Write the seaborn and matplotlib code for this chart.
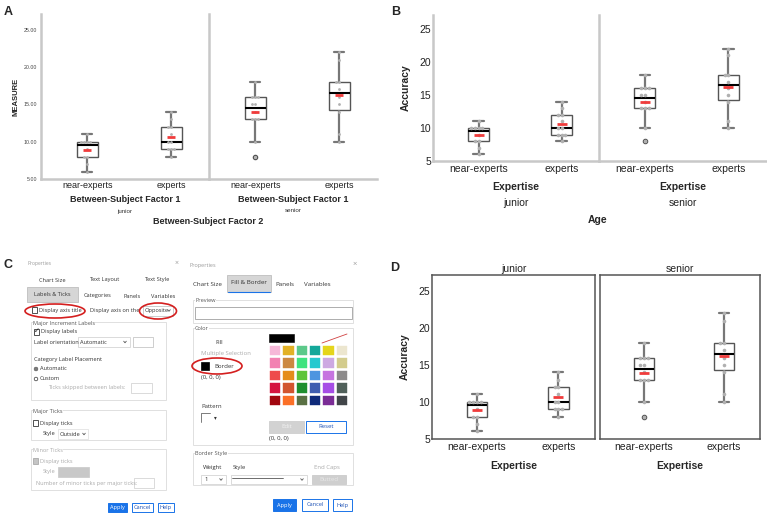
import numpy as np
import pandas as pd
import seaborn as sns
import matplotlib
matplotlib.use("Agg")
import matplotlib.pyplot as plt
from matplotlib.patches import Rectangle, Ellipse, Circle

# ---------------- data ----------------
categories = ["near-experts", "experts"]
ages = ["junior", "senior"]
junior_near = [6, 7, 8, 8, 9, 10, 10, 10, 10, 11]
junior_exp = [8, 9, 9, 9, 10, 10, 11, 12, 12, 13, 14]
senior_near = [8, 10, 13, 13, 13, 14, 15, 15, 16, 16, 16, 18]
senior_exp = [10, 11, 14, 15, 16, 17, 18, 18, 21, 22]
y_ticks = [5, 10, 15, 20, 25]

groups = {("junior", "near-experts"): junior_near,
          ("junior", "experts"): junior_exp,
          ("senior", "near-experts"): senior_near,
          ("senior", "experts"): senior_exp}
rows = []
for (age, exp), vals in groups.items():
    for v in vals:
        rows.append({"Age": age, "Expertise": exp, "Accuracy": v})
df = pd.DataFrame(rows)

# palette for the dialog colour grid
swatches = [
    ["#f6b8d8", "#e2b126", "#5cc98a", "#14a89a", "#e5d51c", "#ece6cf"],
    ["#f282b2", "#cc8842", "#3fe37f", "#27c9cf", "#cda9e2", "#d3cc8d"],
    ["#ee4c4c", "#e58c1b", "#5dc43b", "#4d95e0", "#c674e0", "#8d8b8b"],
    ["#d5143f", "#d2552f", "#1f8f2f", "#3f5db0", "#a64ee6", "#50605a"],
    ["#a1070f", "#fb7027", "#5a7044", "#0f2a7a", "#7b2d96", "#414549"],
]

sns.set_theme(style="white")
plt.rcParams["font.family"] = ["Liberation Sans", "DejaVu Sans"]

W, H = 767, 517
fig = plt.figure(figsize=(W / 100, H / 100), dpi=100)

ov = fig.add_axes([0, 0, 1, 1])
ov.set_xlim(0, W)
ov.set_ylim(H, 0)
ov.axis("off")
ov.patch.set_visible(False)


def add_ax(x0, y0, x1, y1):
    return fig.add_axes([x0 / W, (H - y1) / H, (x1 - x0) / W, (y1 - y0) / H])


def draw_boxes(ax, age, dot_size, mean_ms):
    sub = df[df["Age"] == age]
    sns.boxplot(data=sub, x="Expertise", y="Accuracy", order=categories,
                width=0.25, color="white", linecolor="#555555", linewidth=1.0,
                fliersize=3,
                flierprops=dict(marker="o", markerfacecolor="none",
                                markeredgecolor="#555555", markeredgewidth=1.0),
                medianprops=dict(color="black", linewidth=1.5),
                whiskerprops=dict(color="#777777", linewidth=1.6),
                capprops=dict(color="#777777", linewidth=1.6),
                ax=ax)
    sns.swarmplot(data=sub, x="Expertise", y="Accuracy", order=categories,
                  color="#b0b0b0", size=dot_size, ax=ax, zorder=4)
    sns.pointplot(data=sub, x="Expertise", y="Accuracy", order=categories,
                  estimator="mean", errorbar=None, color="#f03c3c",
                  markers="_", linestyles="none", markersize=mean_ms,
                  markeredgewidth=2.0, ax=ax, zorder=6)
    ax.set_xlim(-0.55, 1.45)
    ax.set_yticks(y_ticks)
    ax.tick_params(length=0)
    ax.set_xlabel("")
    ax.set_ylabel("")


# ---------------- Panel A ----------------
A_top, A_bot = 14, 179
axA = [add_ax(41, A_top, 209, A_bot), add_ax(209, A_top, 377, A_bot)]
for ax, age in zip(axA, ages):
    draw_boxes(ax, age, 2.0, 6)
    ax.set_ylim(5, 27.1)
    for s in ["top", "right"]:
        ax.spines[s].set_visible(False)
    for s in ["left", "bottom"]:
        ax.spines[s].set_color("#c8c8c8")
        ax.spines[s].set_linewidth(1.8)
    ax.tick_params(axis="x", labelsize=6.5, pad=1.5, labelcolor="#222222")
    ax.tick_params(axis="y", labelsize=3.8, pad=2.5, labelcolor="#444444")
    ax.set_yticklabels([f"{v:.2f}" for v in y_ticks])
    ax.set_xlabel("Between-Subject Factor 1", fontsize=6.5, fontweight="bold")
    ax.xaxis.set_label_coords(0.5, (A_bot - 199) / (A_bot - A_top))
    ax.xaxis.label.set_va("center")
    ax.text(0.5, (A_bot - 211) / (A_bot - A_top), age, transform=ax.transAxes,
            ha="center", va="center", fontsize=4.5, color="#333333")
axA[1].tick_params(axis="y", labelleft=False)
axA[0].set_ylabel("MEASURE", fontsize=5.5, fontweight="bold")
axA[0].yaxis.set_label_coords((16 - 41) / 168, 0.5)
axA[0].yaxis.label.set_va("center")
ov.text(208, 222, "Between-Subject Factor 2", ha="center", va="center",
        fontsize=6.5, fontweight="bold")

# ---------------- Panel B ----------------
B_top, B_bot = 15, 161
axB = [add_ax(433, B_top, 599, B_bot), add_ax(599, B_top, 766, B_bot)]
for ax, age in zip(axB, ages):
    draw_boxes(ax, age, 2.6, 7)
    ax.set_ylim(5, 27.1)
    for s in ["top", "right"]:
        ax.spines[s].set_visible(False)
    for s in ["left", "bottom"]:
        ax.spines[s].set_color("#c8c8c8")
        ax.spines[s].set_linewidth(1.8)
    ax.tick_params(axis="x", labelsize=7.5, pad=2.5, labelcolor="#222222")
    ax.tick_params(axis="y", labelsize=7.5, pad=1.5, labelcolor="#222222")
    ax.set_xlabel("Expertise", fontsize=7.5, fontweight="bold")
    ax.xaxis.set_label_coords(0.5, (B_bot - 187) / (B_bot - B_top))
    ax.xaxis.label.set_va("center")
    ax.text(0.5, (B_bot - 203) / (B_bot - B_top), age, transform=ax.transAxes,
            ha="center", va="center", fontsize=7.5, color="#222222")
axB[1].tick_params(axis="y", labelleft=False)
axB[0].set_ylabel("Accuracy", fontsize=7.5, fontweight="bold")
axB[0].yaxis.set_label_coords((406 - 433) / 166, 0.5)
axB[0].yaxis.label.set_va("center")
ov.text(598, 220, "Age", ha="center", va="center", fontsize=7.5,
        fontweight="bold")

# ---------------- Panel D ----------------
D_top, D_bot = 275, 439
axD = [add_ax(432, D_top, 595, D_bot), add_ax(600, D_top, 760, D_bot)]
for ax, age in zip(axD, ages):
    draw_boxes(ax, age, 2.6, 7)
    ax.set_ylim(4.95, 27.2)
    for s in ["top", "right", "left", "bottom"]:
        ax.spines[s].set_visible(True)
        ax.spines[s].set_color("#555555")
        ax.spines[s].set_linewidth(1.1)
    ax.tick_params(axis="x", labelsize=7.5, pad=2.5, labelcolor="#222222")
    ax.tick_params(axis="y", labelsize=7.5, pad=1.5, labelcolor="#222222")
    ax.set_title(age, fontsize=7.5, pad=2.5, color="#222222")
    ax.set_xlabel("Expertise", fontsize=7.5, fontweight="bold")
    ax.xaxis.set_label_coords(0.5, (D_bot - 466) / (D_bot - D_top))
    ax.xaxis.label.set_va("center")
axD[1].tick_params(axis="y", labelleft=False)
axD[0].set_ylabel("Accuracy", fontsize=7.5, fontweight="bold")
axD[0].yaxis.set_label_coords((405 - 432) / 163, 0.5)
axD[0].yaxis.label.set_va("center")

# ---------------- panel letters ----------------
for x, y, s in [(8, 12, "A"), (396, 12, "B"), (8, 265, "C"), (395, 268, "D")]:
    ov.text(x, y, s, ha="center", va="center", fontsize=9, fontweight="bold",
            family="Liberation Sans")

# ---------------- Panel C (dialog screenshots) ----------------
DF = ["Open Sans", "DejaVu Sans"]
BLUE = "#1a73e8"


def rect(x0, y0, x1, y1, fc="none", ec="#dddddd", lw=0.7, z=2):
    ov.add_patch(Rectangle((x0, y0), x1 - x0, y1 - y0, facecolor=fc,
                           edgecolor=ec, linewidth=lw, zorder=z))


def txt(x, y, s, size=4.1, color="#333333", ha="left", bg=False, **kw):
    kws = dict(ha=ha, va="center", fontsize=size, color=color, family=DF,
               zorder=4)
    if bg:
        kws["bbox"] = dict(facecolor="white", edgecolor="none", pad=0.3)
    kws.update(kw)
    ov.text(x, y, s, **kws)


def chevron(x, y, color="#555555"):
    ov.plot([x - 1.3, x, x + 1.3], [y - 0.8, y + 0.8, y - 0.8], color=color,
            lw=0.6, zorder=4)


def ring(cx, cy, w, h):
    ov.add_patch(Ellipse((cx, cy), w, h, facecolor="none", edgecolor="#d41f1f",
                         linewidth=1.2, zorder=5))


def group(x0, y0, x1, y1, title, tcolor="#555555"):
    rect(x0, y0, x1, y1, ec="#e0e0e0", lw=0.7)
    txt(x0 + 2, y0 + 1, title, color=tcolor, bg=True)


def button(x0, y0, x1, y1, label, primary=False):
    if primary:
        rect(x0, y0, x1, y1, fc=BLUE, ec=BLUE, lw=0.7)
        txt((x0 + x1) / 2, (y0 + y1) / 2, label, color="white", ha="center")
    else:
        rect(x0, y0, x1, y1, fc="white", ec=BLUE, lw=0.7)
        txt((x0 + x1) / 2, (y0 + y1) / 2, label, color="#1a4fb4", ha="center")


# left dialog
txt(28, 263, "Properties", size=3.6, color="#9a9a9a")
txt(177, 263, "×", size=5, color="#9a9a9a", ha="center")
for x, s in [(52, "Chart Size"), (104, "Text Layout"), (157, "Text Style")]:
    txt(x, 280, s, ha="center")
rect(27, 287, 78, 302, fc="#d6d6d6", ec="#c4c4c4")
txt(52.5, 294.5, "Labels & Ticks", ha="center")
for x, s in [(98, "Categories"), (132, "Panels"), (163, "Variables")]:
    txt(x, 296, s, ha="center")
rect(32, 306.5, 37, 313, fc="white", ec="#333333", lw=0.6)
txt(39, 310.5, "Display axis title")
txt(90, 310.5, "Display axis on the")
rect(143, 305.5, 173, 316, fc="white", ec="#b8b8b8", lw=0.5)
txt(145, 310.5, "Opposite")
chevron(169, 310.5)
ring(55, 311, 60, 14)
ring(158, 311, 37, 16)

group(31, 322, 166, 400, "Major Increment Labels")
rect(34, 329, 39, 335, fc="white", ec="#333333", lw=0.6)
txt(36.5, 331.5, "✓", size=5, ha="center", color="#222222")
txt(41, 332, "Display labels")
txt(34, 342, "Label orientation")
rect(78, 337, 130, 347, fc="white", ec="#cccccc", lw=0.5)
txt(80, 342, "Automatic")
chevron(125, 342)
rect(133, 336.5, 153, 347, fc="white", ec="#bbbbbb", lw=0.5)
txt(34, 360, "Category Label Placement")
ov.add_patch(Circle((36, 369), 1.8, facecolor="white", edgecolor="#333333",
                    linewidth=0.5, zorder=3))
ov.add_patch(Circle((36, 369), 0.9, facecolor="#333333", edgecolor="none",
                    zorder=4))
txt(39.5, 369, "Automatic")
ov.add_patch(Circle((36, 379), 1.8, facecolor="white", edgecolor="#333333",
                    linewidth=0.5, zorder=3))
txt(39.5, 379, "Custom")
txt(48, 388, "Ticks skipped between labels:", color="#aaaaaa")
rect(131, 383, 152, 393, fc="white", ec="#cccccc", lw=0.5)

group(31, 410, 166, 440, "Major Ticks")
rect(33, 420, 38, 426, fc="white", ec="#333333", lw=0.6)
txt(40, 423, "Display ticks")
txt(43, 434, "Style")
rect(58, 429, 88, 439, fc="white", ec="#dddddd", lw=0.5)
txt(60, 434, "Outside")
chevron(84, 434)

group(31, 449, 166, 490, "Minor Ticks", tcolor="#aaaaaa")
rect(33, 458, 38, 464, fc="#c4c4c4", ec="#aaaaaa", lw=0.6)
txt(40, 461, "Display ticks", color="#aaaaaa")
txt(43, 472, "Style", color="#aaaaaa")
rect(58, 467, 89, 477, fc="#c8c8c8", ec="#c8c8c8", lw=0.5)
txt(36, 483, "Number of minor ticks per major ticks:", color="#aaaaaa")
rect(134, 478, 154, 488, fc="white", ec="#cccccc", lw=0.5)

button(108, 503, 127, 512, "Apply", primary=True)
button(132, 503, 153, 512, "Cancel")
button(158, 503, 174, 512, "Help")

# right dialog
txt(190, 265, "Properties", size=4.0, color="#9a9a9a")
txt(355, 264, "×", size=5.5, color="#9a9a9a", ha="center")
txt(207, 284, "Chart Size", size=4.5, ha="center")
rect(227, 275, 271, 292, fc="#d6d6d6", ec="#c4c4c4")
ov.plot([228, 270], [292, 292], color=BLUE, lw=0.8, zorder=4)
txt(249, 283, "Fill & Border", size=4.5, ha="center")
txt(285, 284, "Panels", size=4.5, ha="center")
txt(317, 284, "Variables", size=4.5, ha="center")

group(193, 300, 353, 323, "Preview")
rect(195, 307, 352, 319, fc="white", ec="#a0a0a0", lw=0.6)

group(193, 328, 353, 445, "Color")
txt(219, 342, "Fill", size=4.3, ha="center")
txt(201, 353, "Multiple Selection", size=4.3, color="#aaaaaa")
rect(201, 362, 209, 369.5, fc="black", ec="black", lw=0.5)
txt(214, 366, "Border", size=4.3)
txt(201, 378, "(0, 0, 0)", size=4.3)
ring(217, 366, 50, 16)

rect(269, 334, 294, 342, fc="black", ec="black", lw=0.4)
ov.plot([322, 347], [343, 334], color="#d04040", lw=0.6, zorder=3)
for r, row in enumerate(swatches):
    for c, col in enumerate(row):
        x0 = 270 + c * 13.3
        y0 = 346 + r * 12.4
        rect(x0, y0, x0 + 10.3, y0 + 9.3, fc=col, ec=col, lw=0.3)

txt(201, 407, "Pattern", size=4.3)
ov.plot([201, 201, 210], [422, 413, 413], color="#666666", lw=0.6, zorder=3)
txt(215, 418, "▾", size=4, color="#333333", ha="center")
rect(269, 421, 304, 433, fc="#d2d2d2", ec="#d2d2d2")
txt(286.5, 427, "Edit", size=4.3, color="#f2f2f2", ha="center")
rect(306, 421, 346, 433, fc="white", ec=BLUE, lw=0.7)
txt(326, 427, "Reset", size=4.3, color="#1a4fb4", ha="center")
txt(269, 438.5, "(0, 0, 0)", size=4.3)

group(193, 453, 353, 485, "Border Style")
txt(213, 467, "Weight", size=4.3, ha="center")
txt(239, 467, "Style", size=4.3, ha="center")
txt(327, 467, "End Caps", size=4.3, color="#aaaaaa", ha="center")
rect(201, 475, 226, 484, fc="white", ec="#cccccc", lw=0.5)
txt(204, 479.5, "1", size=4.3)
chevron(221, 479.5)
rect(231, 475, 307, 484, fc="white", ec="#cccccc", lw=0.5)
ov.plot([232, 283], [478, 478], color="#333333", lw=0.5, zorder=3)
chevron(302, 479.5)
rect(312, 475, 346, 484, fc="#cfcfcf", ec="#cfcfcf")
txt(329, 479.5, "Butted", size=4.3, color="#e8e8e8", ha="center")

button(273, 499, 296, 511, "Apply", primary=True)
button(302, 499, 328, 511, "Cancel")
button(333, 499, 352, 511, "Help")

fig.savefig("out.png", dpi=100)
